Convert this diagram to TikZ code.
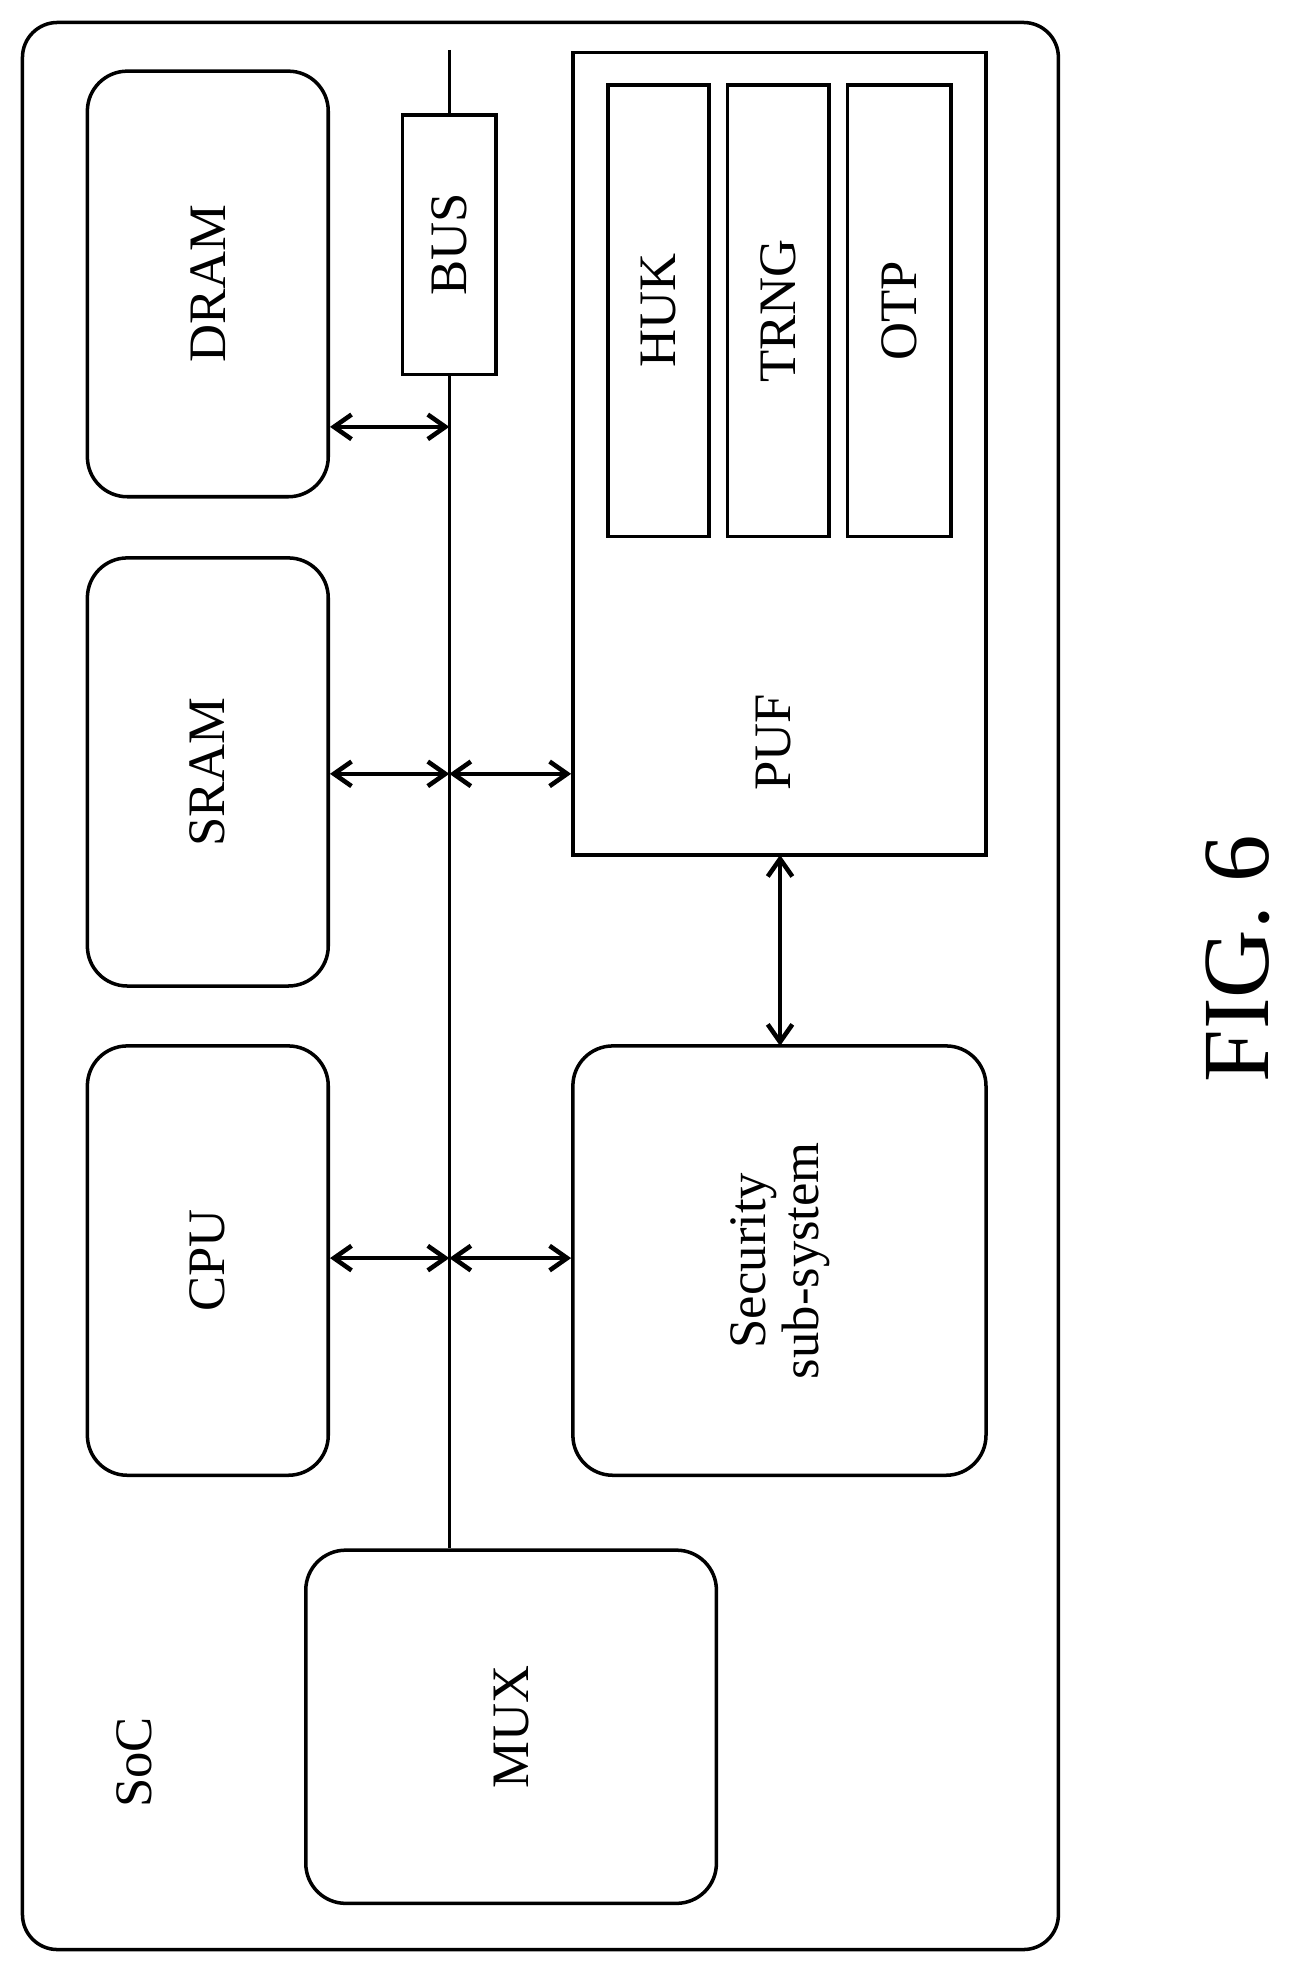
\documentclass[tikz,border=0pt]{standalone}
\usepackage{fontspec}
\setmainfont{Liberation Serif}
\usetikzlibrary{arrows.meta}
\usetikzlibrary{positioning}

\begin{document}
\begin{tikzpicture}[x=0.025cm, y=-0.025cm, line width=2pt,
        block_style/.style={draw=black, rounded corners=0.8cm, inner sep=0pt, font=\fontsize{30}{36}\selectfont},
        plain_style/.style={draw=black, inner sep=0pt, font=\fontsize{30}{36}\selectfont},
        arrow_style/.style={draw=black, line width=2.6pt, {Straight Barb[length=10pt,width=14pt]}-{Straight Barb[length=10pt,width=14pt]}}]
        
        \useasboundingbox (0,0) rectangle (1050,1580);
        
        \draw [rounded corners=0.7cm] (18,18) rectangle (848,1562);
        \node [font=\fontsize{30}{36}\selectfont](soc) at (108,1412) {\rotatebox{90}{SoC}};
    
        \node [block_style, minimum width=193*0.025cm, minimum height=341*0.025cm](dram) at (166.5,227.5) {\rotatebox{90}{DRAM}};
    
        \node [block_style, minimum width=193*0.025cm, minimum height=343*0.025cm](sram) at (166.5,618.5) {\rotatebox{90}{SRAM}};
    
        \node [block_style, minimum width=193*0.025cm, minimum height=344*0.025cm](cpu) at (166.5,1010) {\rotatebox{90}{CPU}};
    
        \node [block_style, minimum width=329*0.025cm, minimum height=283*0.025cm](mux) at (409.5,1383.5) {\rotatebox{90}{MUX}};
    
        \coordinate (bustop) at (360,40);
        \draw (bustop) -- (bustop |- mux.north);
        \node [plain_style, fill=white, minimum width=75*0.025cm, minimum height=208*0.025cm](bus) at (360,196) {\rotatebox{90}{BUS}};
    
        \node [plain_style, minimum width=331*0.025cm, minimum height=643*0.025cm](puf) at (624.5,363.5) {};
        \node [font=\fontsize{30}{36}\selectfont](puflabel) at (620,595) {\rotatebox{90}{PUF}};
    
        \node [plain_style, minimum width=81*0.025cm, minimum height=362*0.025cm](huk) at (527.5,249) {\rotatebox{90}{HUK}};
    
        \node [plain_style, minimum width=81*0.025cm, minimum height=362*0.025cm](trng) at (623.5,249) {\rotatebox{90}{TRNG}};
    
        \node [plain_style, minimum width=83*0.025cm, minimum height=362*0.025cm](otp) at (720.5,249) {\rotatebox{90}{OTP}};
    
        \node [block_style, minimum width=331*0.025cm, minimum height=344*0.025cm](sec) at (624.5,1010) {\rotatebox{90}{\begin{tabular}{c}Security\\[-6pt]sub-system\end{tabular}}};
    
        \coordinate (b1) at (360,342);
        \coordinate (b2) at (360,620);
        \coordinate (b3) at (360,1008);
    
        \draw [arrow_style] (dram.east |- b1) -- (b1);
    
        \draw [arrow_style] (sram.east |- b2) -- (b2);
    
        \draw [arrow_style] (b2) -- (puf.west |- b2);
    
        \draw [arrow_style] (cpu.east |- b3) -- (b3);
    
        \draw [arrow_style] (b3) -- (sec.west |- b3);
    
        \draw [arrow_style] (625,685) -- (625,838);
    
        \node [font=\fontsize{54}{60}\selectfont](fig) at (992,768) {\rotatebox{90}{FIG. 6}};
    
        \end{tikzpicture}
\end{document}
